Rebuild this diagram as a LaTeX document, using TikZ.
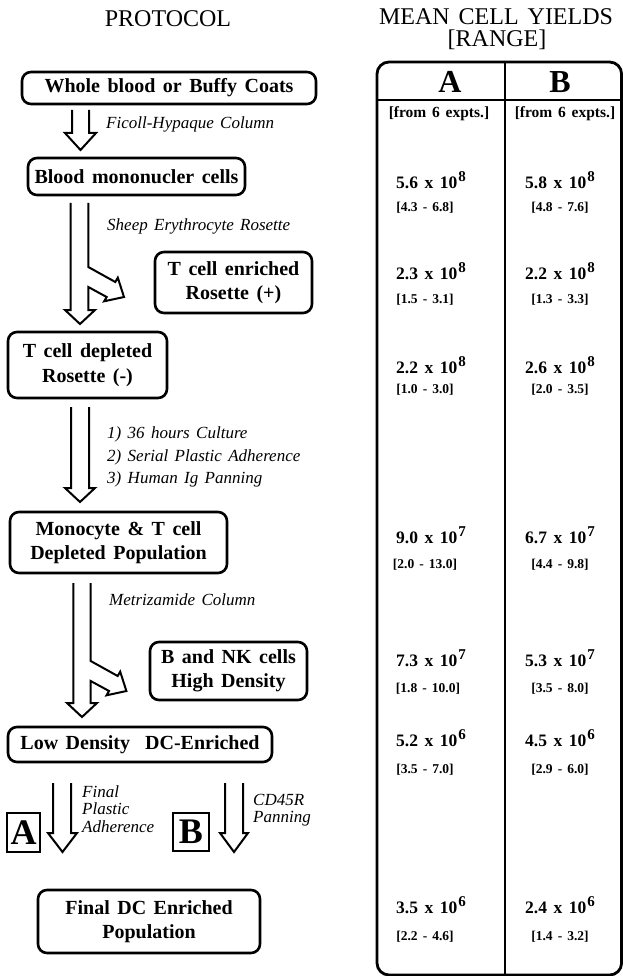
\documentclass[tikz,border=0pt]{standalone}
\usepackage{fontspec}
\setmainfont{Liberation Serif}[WordSpace=1.5]
\newcommand\boxfont{\bfseries\fontsize{20}{24.5}\selectfont}
\newcommand\lblfont{\itshape\fontsize{17}{20}\selectfont}
\newcommand\numfont{\bfseries\fontsize{17.5}{20}\selectfont}
\newcommand\rngfont{\bfseries\fontsize{13.5}{16}\selectfont}
\newcommand\sci[2]{#1 x 10\kern1pt\raisebox{7pt}{\fontsize{15}{15}\selectfont #2}}
\begin{document}
\begin{tikzpicture}[x=1pt,y=-1pt,
  box/.style={draw, line width=2.6pt, rounded corners=9pt, inner sep=0pt, align=center, font=\boxfont},
  letterbox/.style={draw, line width=2.6pt, inner sep=0pt, font=\bfseries\fontsize{36}{36}\selectfont},
  harrow/.style={line width=2pt, line join=miter},
  lbl/.style={anchor=base west, inner sep=0pt, font=\lblfont},
  num/.style={anchor=base, inner sep=0pt, font=\numfont},
  rng/.style={anchor=base, inner sep=0pt, font=\rngfont},
  head/.style={anchor=base, inner sep=0pt, font=\fontsize{24}{26}\selectfont}]
\useasboundingbox (0,0) rectangle (623,976);
\fill[white] (0,0) rectangle (623,976);

% headers
\node[head] (hprot) at (168,27) {PROTOCOL};
\node[head] (hmean) at (496,25) {MEAN CELL YIELDS};
\node[head] (hrange) at (497,47) {[RANGE]};

% protocol boxes
\node[box, minimum width=294, minimum height=32] (b1) at (169,88) {Whole blood or Buffy Coats};
\node[box, minimum width=217, minimum height=37] (b2) at (136.5,176.5) {Blood mononucler cells};
\node[box, minimum width=157, minimum height=61] (b3) at (233.5,282.5) {T cell enriched\\Rosette (+)};
\node[box, minimum width=159, minimum height=66] (b4) at (87.5,365) {T cell depleted\\Rosette (-)};
\node[box, minimum width=217, minimum height=61] (b5) at (118.5,542.5) {Monocyte \& T cell\\Depleted Population};
\node[box, minimum width=157, minimum height=58] (b6) at (228.5,671) {B and NK cells\\High Density};
\node[box, minimum width=264, minimum height=35] (b7) at (140,744.5) {Low Density\ \ DC-Enriched};
\node[box, minimum width=222, minimum height=63] (b8) at (149,921.5) {Final DC Enriched\\Population};
\node[letterbox, minimum width=33, minimum height=39] (ba) at (23.5,832.5) {A};
\node[letterbox, minimum width=36, minimum height=38] (bb) at (191,832) {B};

% hollow arrows
\draw[harrow] (72,110) -- (72,133) -- (65,133) -- (80.5,150) -- (96,133) -- (89,133) -- (89,110);
\draw[harrow] (70.7,203) -- (70.7,310) -- (65,310) -- (80,324) -- (95,310) -- (88.3,310) -- (88.3,287)
  -- +(18.35,10) -- +(15.85,14.3) -- +(35.7,10) -- +(29.5,-9.3) -- +(27,-5) -- (88.3,267) -- (88.3,203);
\draw[harrow] (71,407) -- (71,488) -- (65,488) -- (80,502) -- (95,488) -- (89,488) -- (89,407);
\draw[harrow] (73.3,583) -- (73.3,703) -- (67,703) -- (82,717) -- (97,703) -- (90.7,703) -- (90.7,681)
  -- +(18.35,10) -- +(15.85,14.3) -- +(35.7,10) -- +(29.5,-9.3) -- +(27,-5) -- (90.7,661) -- (90.7,583);
\draw[harrow] (53,783) -- (53,833) -- (48,833) -- (62.5,852) -- (77,833) -- (71,833) -- (71,783);
\draw[harrow] (225,783) -- (225,833) -- (220,833) -- (234,852) -- (248,833) -- (243,833) -- (243,783);

% arrow labels
\node[lbl] (l1) at (106,129) {Ficoll-Hypaque Column};
\node[lbl] (l2) at (107,230) {Sheep Erythrocyte Rosette};
\node[lbl] (l3a) at (107,438) {1)\ 36 hours Culture};
\node[lbl] (l3b) at (107,461) {2)\ Serial Plastic Adherence};
\node[lbl] (l3c) at (107,483) {3)\ Human Ig Panning};
\node[lbl] (l4) at (109,605) {Metrizamide Column};
\node[lbl] (l5a) at (82,797) {Final};
\node[lbl] (l5b) at (82,814) {Plastic};
\node[lbl] (l5c) at (82,832) {Adherence};
\node[lbl] (l6a) at (253,805) {CD45R};
\node[lbl] (l6b) at (253,822) {Panning};

% table
\draw[line width=2.8pt, rounded corners=12pt] (377,62) rectangle (621.6,975);
\draw[line width=2.8pt] (505,62) -- (505,975);
\draw[line width=2pt] (377,100) -- (621.6,100);
\node[anchor=base, inner sep=0pt, font=\bfseries\fontsize{32}{32}\selectfont] (ta) at (450,93) {A};
\node[anchor=base, inner sep=0pt, font=\bfseries\fontsize{32}{32}\selectfont] (tb) at (560,93) {B};
\node[anchor=base, inner sep=0pt, font=\bfseries\fontsize{15.5}{15.5}\selectfont] (fa) at (439,118) {[from\ 6\ expts.]};
\node[anchor=base, inner sep=0pt, font=\bfseries\fontsize{15.5}{15.5}\selectfont] (fb) at (565,118) {[from\ 6\ expts.]};

\node[num] (a1) at (431,189) {\sci{5.6}{8}};
\node[rng] (ar1) at (425,212) {[4.3 - 6.8]};
\node[num] (c1) at (560,189) {\sci{5.8}{8}};
\node[rng] (cr1) at (560,212) {[4.8 - 7.6]};

\node[num] (a2) at (431,279) {\sci{2.3}{8}};
\node[rng] (ar2) at (425,303) {[1.5 - 3.1]};
\node[num] (c2) at (560,279) {\sci{2.2}{8}};
\node[rng] (cr2) at (560,303) {[1.3 - 3.3]};

\node[num] (a3) at (431,373) {\sci{2.2}{8}};
\node[rng] (ar3) at (425,393) {[1.0 - 3.0]};
\node[num] (c3) at (560,373) {\sci{2.6}{8}};
\node[rng] (cr3) at (560,393) {[2.0 - 3.5]};

\node[num] (a4) at (431,543) {\sci{9.0}{7}};
\node[rng] (ar4) at (425,568) {[2.0 - 13.0]};
\node[num] (c4) at (560,543) {\sci{6.7}{7}};
\node[rng] (cr4) at (560,568) {[4.4 - 9.8]};

\node[num] (a5) at (431,666) {\sci{7.3}{7}};
\node[rng] (ar5) at (428,692) {[1.8 - 10.0]};
\node[num] (c5) at (560,666) {\sci{5.3}{7}};
\node[rng] (cr5) at (560,692) {[3.5 - 8.0]};

\node[num] (a6) at (431,746) {\sci{5.2}{6}};
\node[rng] (ar6) at (425,773) {[3.5 - 7.0]};
\node[num] (c6) at (560,746) {\sci{4.5}{6}};
\node[rng] (cr6) at (560,773) {[2.9 - 6.0]};

\node[num] (a7) at (431,913) {\sci{3.5}{6}};
\node[rng] (ar7) at (425,940) {[2.2 - 4.6]};
\node[num] (c7) at (560,913) {\sci{2.4}{6}};
\node[rng] (cr7) at (560,940) {[1.4 - 3.2]};
\end{tikzpicture}
\end{document}
